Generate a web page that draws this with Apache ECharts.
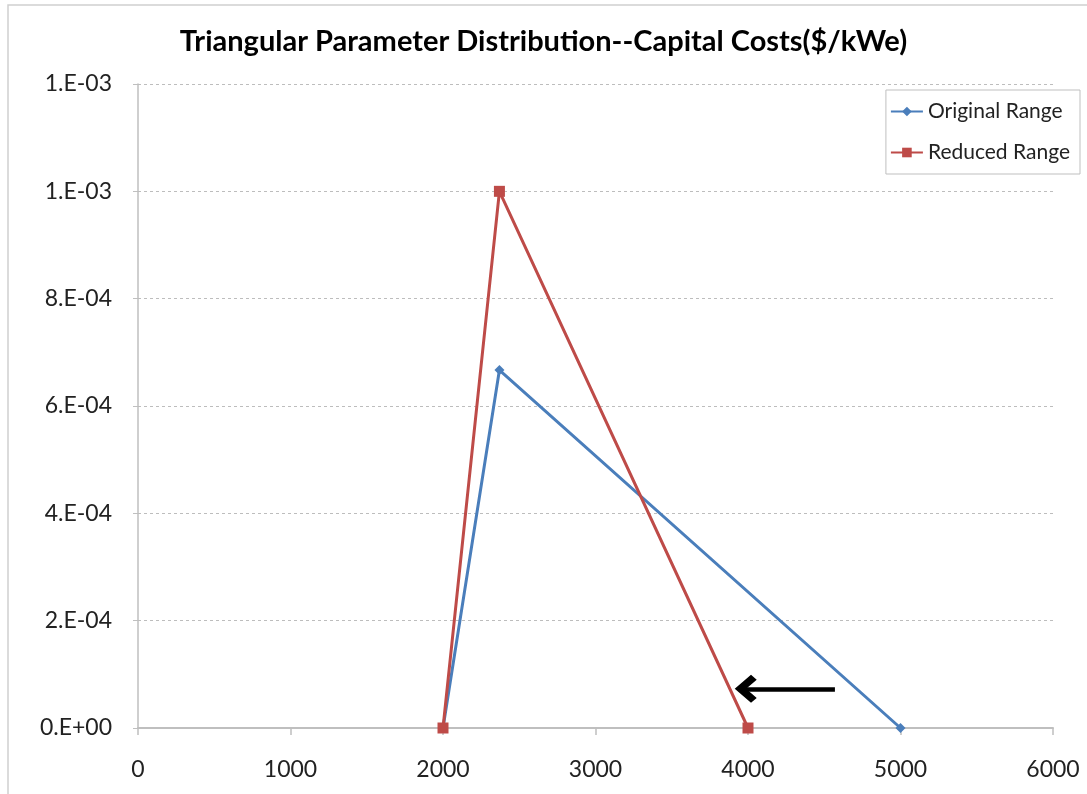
<!DOCTYPE html>
<html>
<head>
<meta charset="utf-8">
<script src="https://cdn.jsdelivr.net/npm/echarts@6/dist/echarts.min.js"></script>
<style>
  html, body { margin: 0; padding: 0; background: #fff; }
  #chart { width: 1087px; height: 794px; }
</style>
</head>
<body>
<div id="chart"></div>
<script>
// Triangular distributions of capital cost ($/kWe): [cost, probability density]
const originalRange = [[2000, 0], [2370, 6.67e-4], [5000, 0]];
const reducedRange = [[2000, 0], [2370, 1.0e-3], [4000, 0]];
const arrowFrom = [4570, 7.3e-5];
const arrowTo = [3985, 7.3e-5];
const xTicks = { min: 0, max: 6000, interval: 1000 };
const yTicks = { min: 0, max: 0.0012, interval: 0.0002 };

// Excel-style scientific label, e.g. 2.E-04
function sciLabel(v) {
  if (v === 0) return '0.E+00';
  const [m, e] = v.toExponential(0).split('e');
  const n = parseInt(e, 10);
  const sign = n < 0 ? '-' : '+';
  const abs = String(Math.abs(n)).padStart(2, '0');
  return m + '.E' + sign + abs;
}

const font = 'Lato, "Open Sans", sans-serif';
const chart = echarts.init(document.getElementById('chart'), null, { renderer: 'canvas' });
chart.setOption({
  backgroundColor: '#fff',
  animation: false,
  title: {
    text: 'Triangular Parameter Distribution--Capital Costs($/kWe)',
    left: 'center',
    top: 22,
    textStyle: { fontFamily: font, fontSize: 29, fontWeight: 'bold', color: '#000' }
  },
  legend: {
    right: 7,
    top: 90,
    orient: 'vertical',
    itemGap: 20,
    itemWidth: 32,
    itemHeight: 12,
    padding: [11, 10, 11, 4],
    borderColor: '#BFBFBF',
    borderWidth: 1,
    backgroundColor: '#fff',
    textStyle: { fontFamily: font, fontSize: 21, color: '#222' },
    data: ['Original Range', 'Reduced Range']
  },
  grid: { left: 138, right: 34, top: 84, bottom: 66 },
  xAxis: {
    type: 'value',
    min: xTicks.min, max: xTicks.max, interval: xTicks.interval,
    axisLine: { show: true, lineStyle: { color: '#BFBFBF', width: 2 } },
    axisTick: { show: true, length: 7, lineStyle: { color: '#BFBFBF', width: 1.5 } },
    splitLine: { show: false },
    axisLabel: { fontFamily: font, fontSize: 23, color: '#222', margin: 30, formatter: v => String(v) }
  },
  yAxis: {
    type: 'value',
    min: yTicks.min, max: yTicks.max, interval: yTicks.interval,
    axisLine: { show: true, lineStyle: { color: '#BFBFBF', width: 1.5 } },
    axisTick: { show: true, length: 5, lineStyle: { color: '#BFBFBF' } },
    splitLine: { show: true, lineStyle: { color: '#BDBDBD', type: [3, 3], width: 1 } },
    axisLabel: { fontFamily: font, fontSize: 23, color: '#222', margin: 26, formatter: sciLabel }
  },
  series: [
    {
      name: 'Original Range',
      type: 'line',
      data: originalRange,
      color: '#4A7EBB',
      symbol: 'diamond',
      symbolSize: 10,
      lineStyle: { width: 3, color: '#4A7EBB' },
      itemStyle: { color: '#4A7EBB' },
      z: 2,
      markLine: {
        silent: true,
        symbol: ['none', 'path://M10,0 L20,10 L16.5,13.5 L10,7 L3.5,13.5 L0,10 Z'],
        symbolSize: [28, 22],
        symbolOffset: [0, 0],
        label: { show: false },
        lineStyle: { color: '#000', width: 4.5, type: 'solid' },
        data: [[{ coord: arrowFrom }, { coord: arrowTo }]]
      }
    },
    {
      name: 'Reduced Range',
      type: 'line',
      data: reducedRange,
      color: '#BE4B48',
      symbol: 'rect',
      symbolSize: 11,
      lineStyle: { width: 3, color: '#BE4B48' },
      itemStyle: { color: '#BE4B48' },
      z: 3
    }
  ],
  graphic: [
    {
      type: 'rect',
      shape: { x: 8, y: 5, width: 1100, height: 800 },
      style: { fill: 'none', stroke: '#D0D0D0', lineWidth: 1.5 },
      silent: true
    }
  ]
});
</script>
</body>
</html>
